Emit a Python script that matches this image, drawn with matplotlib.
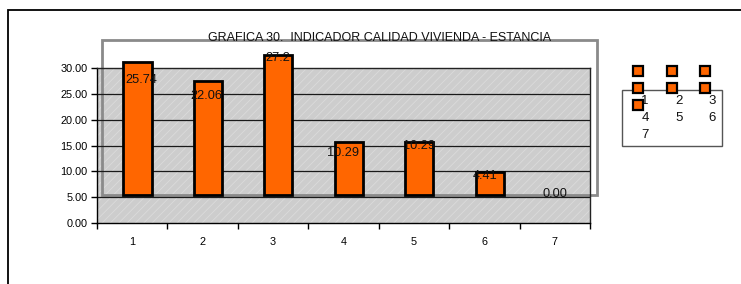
import numpy as np
import matplotlib.pyplot as plt
from matplotlib.patches import Rectangle
from matplotlib.lines import Line2D

plt.rcParams['font.family'] = ['Liberation Sans', 'DejaVu Sans']
plt.rcParams['hatch.color'] = '#dddddd'
plt.rcParams['hatch.linewidth'] = 0.5

# data
categorias = ['1', '2', '3', '4', '5', '6', '7']
valores = [25.74, 22.06, 27.2, 10.29, 10.29, 4.41, 0.00]
etiquetas = ['25.74', '22.06', '27.2', '10.29', '10.29', '4.41', '0.00']
yticks = [0, 5, 10, 15, 20, 25, 30]
titulo = 'GRAFICA 30.  INDICADOR CALIDAD VIVIENDA - ESTANCIA'

W, H = 741, 284
naranja = '#ff6600'

fig = plt.figure(figsize=(W / 100, H / 100), dpi=100)

def fx(px):
    return px / W

def fy(py):
    return 1 - py / H

ax = fig.add_axes([fx(97), fy(223), fx(590) - fx(97), fy(68) - fy(223)])
ax.set_facecolor('#cdcdcd')
ax.add_patch(Rectangle((0, 0), 1, 1, transform=ax.transAxes, facecolor='none',
                       hatch='////', linewidth=0, zorder=0.5))

x = np.arange(1, len(categorias) + 1)
base = 5.4     # bars in the original are drawn lifted from the axis
shift = 0.075  # and a bit to the right of their category
lw = [2 if v > 0 else 0 for v in valores]
ax.bar(x + shift, valores, width=0.4, bottom=base, color=naranja, edgecolor='black',
       linewidth=lw, zorder=3, clip_on=False)

# nudges (px) of the value labels as they appear in the original
nudges = [(4, -18), (-2, -15), (-1, -3), (-6, -11), (0, -4), (-5, -4), (-5, 1)]
for xi, v, lab, (dx, dy) in zip(x + shift, valores, etiquetas, nudges):
    ax.annotate(lab, (xi, base + v), xytext=(dx * 0.72, dy * 0.72),
                textcoords='offset points', ha='center', va='center',
                fontsize=9.2, color='#111111', zorder=5, annotation_clip=False)

ax.set_xlim(0.5, len(categorias) + 0.5)
ax.set_ylim(0, 30)
ax.set_yticks(yticks)
ax.set_yticklabels(['%.2f' % t for t in yticks], fontsize=7.8)
for t in yticks[1:-1]:
    ax.axhline(t, color='#1a1a1a', linewidth=0.9, zorder=2.5)

ax.set_xticks(np.arange(0.5, len(categorias) + 1, 1))
ax.set_xticklabels([])
ax.set_xticks(x, minor=True)
ax.set_xticklabels(categorias, minor=True, fontsize=7.8)
ax.tick_params(axis='x', which='major', direction='out', length=4, width=1)
ax.tick_params(axis='x', which='minor', length=0, pad=10)
ax.tick_params(axis='y', direction='out', length=4, width=1, pad=3)
for s in ax.spines.values():
    s.set_color('#222222')
    s.set_linewidth(1)
ax.spines['left'].set_color('black')
ax.spines['bottom'].set_color('black')

# gray chart-area frame (misplaced in the original)
ax.add_patch(Rectangle((fx(102), fy(195)), fx(597) - fx(102), fy(40) - fy(195),
                       transform=fig.transFigure, facecolor='none',
                       edgecolor='#8a8a8a', linewidth=2, clip_on=False, zorder=2))

fig.text(fx(380), fy(38), titulo, ha='center', va='center', fontsize=9,
         color='#111111', zorder=10)

# outer border
fig.patches.append(Rectangle((fx(8), -0.2), 1.2, fy(10) + 0.2,
                             transform=fig.transFigure, facecolor='none',
                             edgecolor='black', linewidth=1.3))

# legend (drawn by hand, as displaced in the original)
fig.patches.append(Rectangle((fx(622), fy(146)), fx(722) - fx(622), fy(90) - fy(146),
                             transform=fig.transFigure, facecolor='white',
                             edgecolor='#555555', linewidth=1))
cols = [638, 672, 705]
for i, cat in enumerate(categorias):
    r, c = divmod(i, 3)
    mx, my = cols[c], 71 + 17 * r
    fig.add_artist(Line2D([fx(mx)], [fy(my)], marker='s', markersize=7.5,
                          markerfacecolor=naranja, markeredgecolor='black',
                          markeredgewidth=1.6, linestyle='none', zorder=6))
    fig.text(fx(mx + 7), fy(101 + 17 * r), cat, ha='center', va='center',
             fontsize=9.5, color='#111111', zorder=5)

fig.savefig('out.png', dpi=100)
